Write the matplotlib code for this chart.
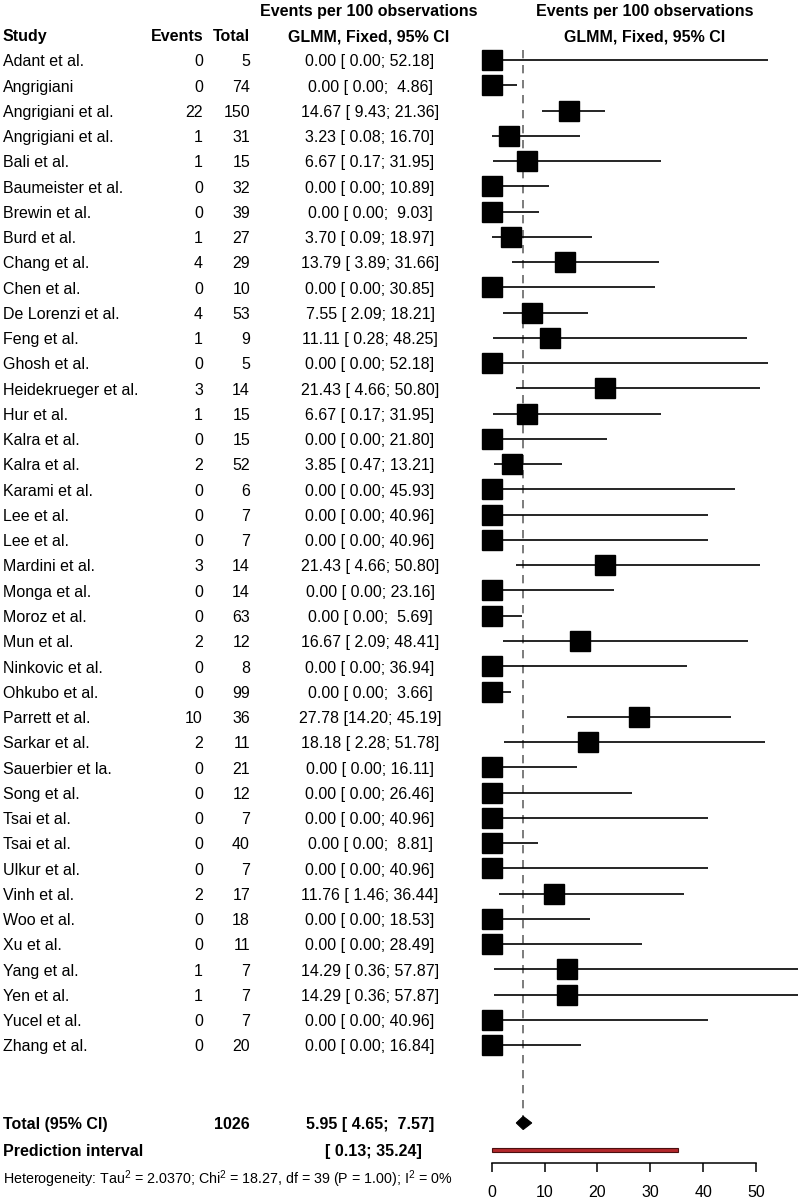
import matplotlib
matplotlib.use("Agg")
import matplotlib.pyplot as plt
from matplotlib.patches import Polygon, Rectangle

plt.rcParams['font.family'] = ['Liberation Sans', 'DejaVu Sans']
plt.rcParams['mathtext.fontset'] = 'custom'
plt.rcParams['mathtext.rm'] = 'Liberation Sans'

####### data ##################
studies = ["Adant et al.", "Angrigiani", "Angrigiani et al.", "Angrigiani et al.", "Bali et al.",
           "Baumeister et al.", "Brewin et al.", "Burd et al.", "Chang et al.", "Chen et al.",
           "De Lorenzi et al.", "Feng et al.", "Ghosh et al.", "Heidekrueger et al.", "Hur et al.",
           "Kalra et al.", "Kalra et al.", "Karami et al.", "Lee et al.", "Lee et al.",
           "Mardini et al.", "Monga et al.", "Moroz et al.", "Mun et al.", "Ninkovic et al.",
           "Ohkubo et al.", "Parrett et al.", "Sarkar et al.", "Sauerbier et la.", "Song et al.",
           "Tsai et al.", "Tsai et al.", "Ulkur et al.", "Vinh et al.", "Woo et al.",
           "Xu et al.", "Yang et al.", "Yen et al.", "Yucel et al.", "Zhang et al."]
events = [0, 0, 22, 1, 1, 0, 0, 1, 4, 0, 4, 1, 0, 3, 1, 0, 2, 0, 0, 0,
          3, 0, 0, 2, 0, 0, 10, 2, 0, 0, 0, 0, 0, 2, 0, 0, 1, 1, 0, 0]
totals = [5, 74, 150, 31, 15, 32, 39, 27, 29, 10, 53, 9, 5, 14, 15, 15, 52, 6, 7, 7,
          14, 14, 63, 12, 8, 99, 36, 11, 21, 12, 7, 40, 7, 17, 18, 11, 7, 7, 7, 20]
est = [0.00, 0.00, 14.67, 3.23, 6.67, 0.00, 0.00, 3.70, 13.79, 0.00,
       7.55, 11.11, 0.00, 21.43, 6.67, 0.00, 3.85, 0.00, 0.00, 0.00,
       21.43, 0.00, 0.00, 16.67, 0.00, 0.00, 27.78, 18.18, 0.00, 0.00,
       0.00, 0.00, 0.00, 11.76, 0.00, 0.00, 14.29, 14.29, 0.00, 0.00]
lower = [0.00, 0.00, 9.43, 0.08, 0.17, 0.00, 0.00, 0.09, 3.89, 0.00,
         2.09, 0.28, 0.00, 4.66, 0.17, 0.00, 0.47, 0.00, 0.00, 0.00,
         4.66, 0.00, 0.00, 2.09, 0.00, 0.00, 14.20, 2.28, 0.00, 0.00,
         0.00, 0.00, 0.00, 1.46, 0.00, 0.00, 0.36, 0.36, 0.00, 0.00]
upper = [52.18, 4.86, 21.36, 16.70, 31.95, 10.89, 9.03, 18.97, 31.66, 30.85,
         18.21, 48.25, 52.18, 50.80, 31.95, 21.80, 13.21, 45.93, 40.96, 40.96,
         50.80, 23.16, 5.69, 48.41, 36.94, 3.66, 45.19, 51.78, 16.11, 26.46,
         40.96, 8.81, 40.96, 36.44, 18.53, 28.49, 57.87, 57.87, 40.96, 16.84]

total_n = 1026
pooled, pooled_lo, pooled_hi = 5.95, 4.65, 7.57
pred_lo, pred_hi = 0.13, 35.24
xticks = [0, 10, 20, 30, 40, 50]
het_text = ("Heterogeneity: Tau$^2$ = 2.0370; Chi$^2$ = 18.27, df = 39 "
            "(P = 1.00); I$^2$ = 0%")

n = len(studies)
rows = list(range(n))
row_total = n + 2.08
row_pred = n + 3.15
row_het = n + 4.22
row_axis = n + 3.67
ylim = (n + 5.13, -2.375)
fs = 11.5
dy = 0.07   # small nudge so text sits level with the squares

fig = plt.figure(figsize=(8, 12), dpi=100)

############ text columns ##############
tx = fig.add_axes([0, 0, 1, 1])
tx.set_xlim(0, 800)
tx.set_ylim(*ylim)
tx.axis('off')


def ci_str(e, l, u):
    return "%.2f [%5.2f; %5.2f]" % (e, l, u)


tx.text(369, -1.98 + dy, "Events per 100 observations", ha='center', va='center', fontsize=fs, weight='bold')
tx.text(369, -0.99 + dy, "GLMM, Fixed, 95% CI", ha='center', va='center', fontsize=fs, weight='bold')
tx.text(3, -0.99 + dy, "Study", ha='left', va='center', fontsize=fs, weight='bold')
tx.text(203, -0.99 + dy, "Events", ha='right', va='center', fontsize=fs, weight='bold')
tx.text(250, -0.99 + dy, "Total", ha='right', va='center', fontsize=fs, weight='bold')

tx.text(645, -1.98 + dy, "Events per 100 observations", ha='center', va='center', fontsize=fs, weight='bold')
tx.text(645, -0.99 + dy, "GLMM, Fixed, 95% CI", ha='center', va='center', fontsize=fs, weight='bold')

for i in rows:
    tx.text(3, i + dy, studies[i], ha='left', va='center', fontsize=fs)
    tx.text(203, i + dy, str(events[i]), ha='right', va='center', fontsize=fs)
    tx.text(250, i + dy, str(totals[i]), ha='right', va='center', fontsize=fs)
    tx.text(370, i + dy, ci_str(est[i], lower[i], upper[i]), ha='center', va='center', fontsize=fs)

tx.text(3, row_total + dy, "Total (95% CI)", ha='left', va='center', fontsize=fs, weight='bold')
tx.text(250, row_total + dy, str(total_n), ha='right', va='center', fontsize=fs, weight='bold')
tx.text(370, row_total + dy, ci_str(pooled, pooled_lo, pooled_hi), ha='center', va='center',
        fontsize=fs, weight='bold')
tx.text(3, row_pred + dy, "Prediction interval", ha='left', va='center', fontsize=fs, weight='bold')
tx.text(373, row_pred + dy, "[%5.2f; %5.2f]" % (pred_lo, pred_hi), ha='center', va='center',
        fontsize=fs, weight='bold')
tx.text(3, row_het + dy, het_text, ha='left', va='center', fontsize=10.3)

############ forest panel ##############
ax = fig.add_axes([460 / 800, 0, 340 / 800, 1])
ax.set_xlim(-6.0, 58.32)
ax.set_ylim(*ylim)
ax.patch.set_alpha(0)

for i in rows:
    ax.plot([lower[i], upper[i]], [i, i], color='black', lw=1.2, solid_capstyle='butt', zorder=2)
ax.plot(est, rows, 's', color='black', ms=14.4, zorder=3)

ax.plot([pooled, pooled], [-0.4, row_total - 0.25], color='#666666', lw=1.2,
        dashes=(5, 4), zorder=1)

dia = Polygon([(pooled_lo, row_total), (pooled, row_total - 0.26),
               (pooled_hi, row_total), (pooled, row_total + 0.26)],
              closed=True, facecolor='black', edgecolor='black', lw=0.8, zorder=3)
ax.add_patch(dia)

pred = Rectangle((pred_lo, row_pred - 0.09), pred_hi - pred_lo, 0.18,
                 facecolor='#b3282b', edgecolor='#4a1010', lw=0.8, zorder=3)
ax.add_patch(pred)

for s in ['top', 'right', 'left']:
    ax.spines[s].set_visible(False)
ax.spines['bottom'].set_position(('data', row_axis))
ax.spines['bottom'].set_bounds(0, 50)
ax.spines['bottom'].set_linewidth(1.1)
ax.set_yticks([])
ax.set_xticks(xticks)
ax.set_xticklabels([str(t) for t in xticks])
ax.tick_params(axis='x', direction='out', length=6.5, width=1.1, pad=9, labelsize=fs)

fig.savefig("out.png", dpi=100)
